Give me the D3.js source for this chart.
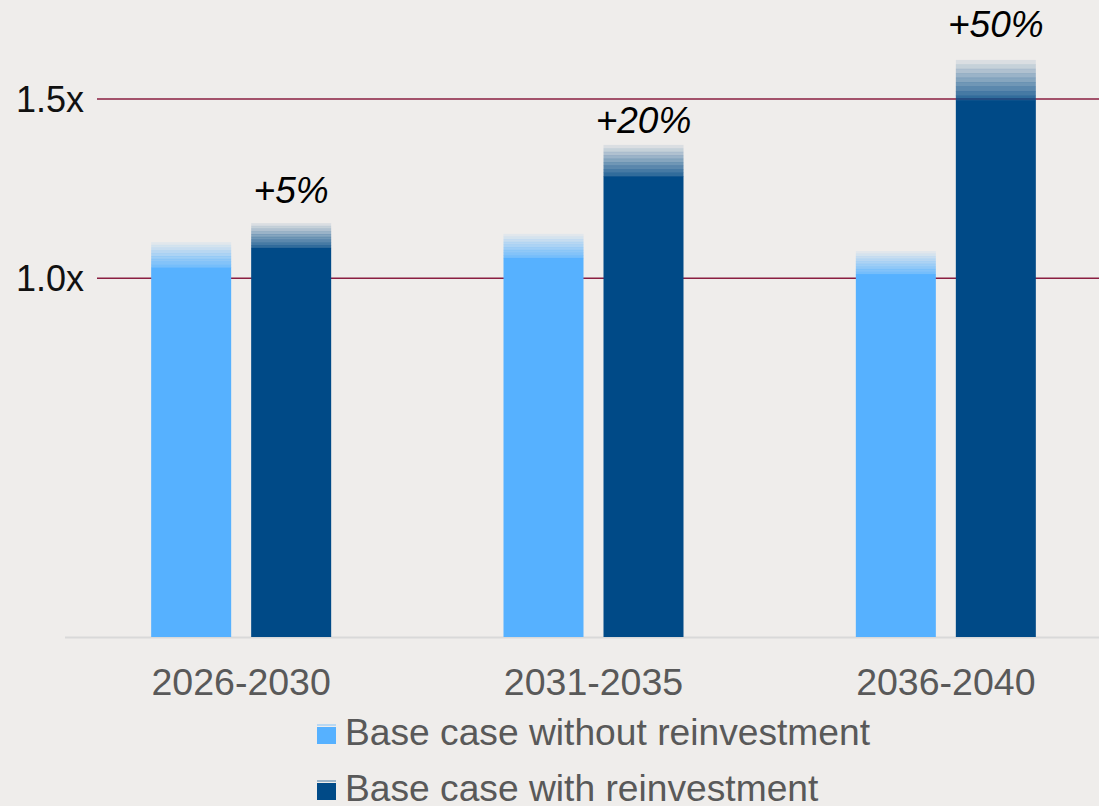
<!DOCTYPE html>
<html>
<head>
<meta charset="utf-8">
<script src="https://cdn.jsdelivr.net/npm/d3@7"></script>
<style>
  html, body { margin: 0; padding: 0; background: #efedeb; }
  svg { display: block; font-family: "Liberation Sans", Arial, sans-serif; }
</style>
</head>
<body>
<svg id="chart" width="1099" height="806"></svg>
<script>
// Periods on the x axis
const periods = ["2026-2030", "2031-2035", "2036-2040"];
const seriesNames = ["Base case without reinvestment", "Base case with reinvestment"];
// Central multiple (solid part of each bar)
const withoutReinvest = [1.031, 1.057, 1.012];
const withReinvest = [1.085, 1.285, 1.497];
// Upper end of the faded range above each bar
const withoutUpper = [1.101, 1.124, 1.076];
const withUpper = [1.154, 1.372, 1.609];
// Uplift labels over the reinvestment bars and where they sit
const upliftLabels = ["+5%", "+20%", "+50%"];
const upliftLabelAt = [1.21, 1.405, 1.673];
// Y ticks
const yTicks = [1.0, 1.5];

const colors = ["#56b1ff", "#004a87"];
const bg = "#efedeb";

const svg = d3.select("#chart");
svg.append("rect").attr("width", 1099).attr("height", 806).attr("fill", bg);

const y = d3.scaleLinear().domain([0, 1.5]).range([637, 99]);
const x = d3.scaleBand().domain(periods).range([65, 1122]);
const xi = d3.scaleBand().domain([0, 1]).range([0, 180]).paddingInner(0.2);
const groupOffset = (x.bandwidth() - 180) / 2;

// Gridlines
svg.append("g").selectAll("line").data(yTicks).join("line")
  .attr("x1", 97).attr("x2", 1099)
  .attr("y1", d => y(d)).attr("y2", d => y(d))
  .attr("stroke", "#8a1e41").attr("stroke-width", 1.5);

svg.append("g").selectAll("text").data(yTicks).join("text")
  .attr("x", 84).attr("y", d => y(d) + 13)
  .attr("text-anchor", "end")
  .attr("font-size", 36).attr("fill", "#111")
  .text(d => d3.format(".1f")(d) + "x");

// Baseline
svg.append("line").attr("x1", 65).attr("x2", 1099)
  .attr("y1", 637.5).attr("y2", 637.5)
  .attr("stroke", "#d9d9d9").attr("stroke-width", 2);

const bars = [];
periods.forEach((p, i) => {
  bars.push({ period: p, s: 0, v: withoutReinvest[i], hi: withoutUpper[i] });
  bars.push({ period: p, s: 1, v: withReinvest[i], hi: withUpper[i] });
});

const nSteps = 9;
const barG = svg.append("g");
bars.forEach(b => {
  const bx = x(b.period) + groupOffset + xi(b.s);
  const w = xi.bandwidth();
  barG.append("rect")
    .attr("x", bx).attr("width", w)
    .attr("y", y(b.v)).attr("height", y(0) - y(b.v))
    .attr("fill", colors[b.s]);
  // stepped fade between the central value and the upper end
  const top = y(b.hi), bot = y(b.v);
  const h = (bot - top) / nSteps;
  for (let k = 0; k < nSteps; k++) {
    barG.append("rect")
      .attr("x", bx).attr("width", w)
      .attr("y", bot - (k + 1) * h).attr("height", h + 0.3)
      .attr("fill", colors[b.s])
      .attr("fill-opacity", 0.8 * (1 - (k + 0.5) / nSteps) + 0.04);
  }
});

// Uplift labels
svg.append("g").selectAll("text").data(periods).join("text")
  .attr("x", (d) => x(d) + groupOffset + xi(1) + xi.bandwidth() / 2)
  .attr("y", (d, i) => y(upliftLabelAt[i]))
  .attr("text-anchor", "middle")
  .attr("font-size", 37).attr("font-style", "italic").attr("fill", "#000")
  .text((d, i) => upliftLabels[i]);

// Category labels
svg.append("g").selectAll("text").data(periods).join("text")
  .attr("x", d => x(d) + x.bandwidth() / 2)
  .attr("y", 695)
  .attr("text-anchor", "middle")
  .attr("font-size", 37.5).attr("fill", "#595959")
  .text(d => d);

// Legend
const leg = svg.append("g");
seriesNames.forEach((name, i) => {
  const ly = 745 + i * 56;
  leg.append("rect").attr("x", 317).attr("y", ly - 18).attr("width", 19).attr("height", 17)
    .attr("fill", colors[i]);
  leg.append("rect").attr("x", 317).attr("y", ly - 21).attr("width", 19).attr("height", 2)
    .attr("fill", colors[i]).attr("fill-opacity", 0.35);
  leg.append("text").attr("x", 345).attr("y", ly)
    .attr("font-size", 37.2).attr("fill", "#595959")
    .text(name);
});
</script>
</body>
</html>
